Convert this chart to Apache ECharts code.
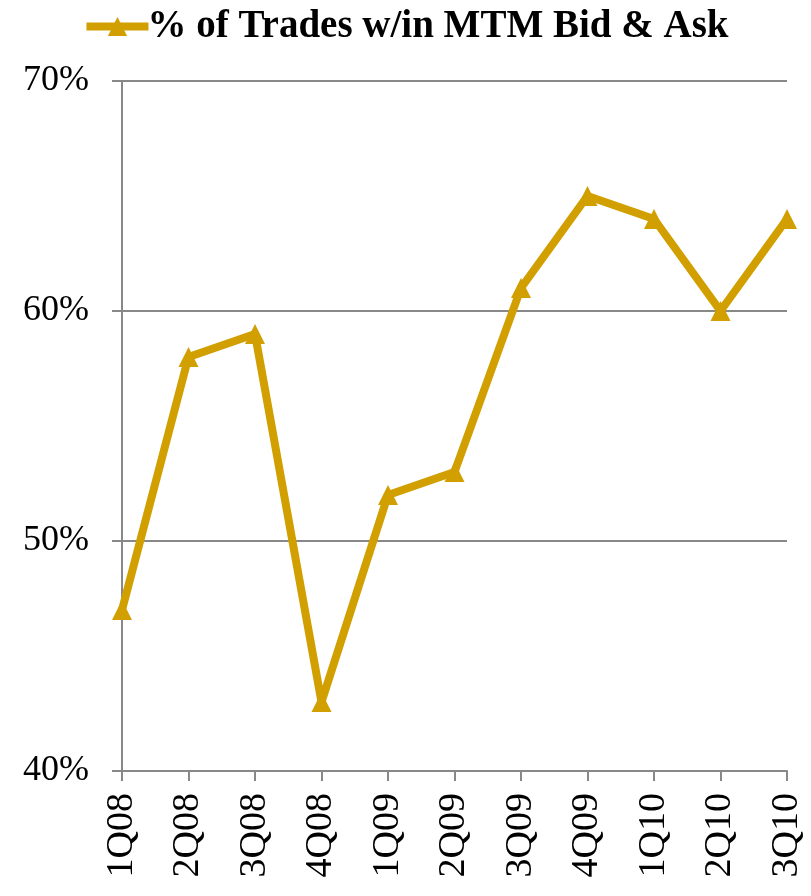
<!DOCTYPE html>
<html>
<head>
<meta charset="utf-8">
<script src="https://cdn.jsdelivr.net/npm/echarts@6/dist/echarts.min.js"></script>
<style>
  html, body { margin: 0; padding: 0; background: #fff; }
  #chart { width: 811px; height: 896px; }
</style>
</head>
<body>
<div id="chart"></div>
<script>
// quarters on the x axis
var quarters = ['1Q08', '2Q08', '3Q08', '4Q08', '1Q09', '2Q09', '3Q09', '4Q09', '1Q10', '2Q10', '3Q10'];
// share of trades inside the MTM bid/ask, in percent
var withinBidAsk = [47, 58, 59, 43, 52, 53, 61, 65, 64, 60, 64];
var seriesName = '% of Trades w/in MTM Bid & Ask';

var font = '"Liberation Serif", "DejaVu Serif", serif';
var gold = '#D19F00';

var chart = echarts.init(document.getElementById('chart'));
chart.setOption({
  animation: false,
  textStyle: { fontFamily: font },
  legend: {
    top: 2,
    left: 'center',
    itemWidth: 62,
    itemHeight: 24,
    itemGap: 0,
    lineStyle: { width: 8, color: gold },
    itemStyle: { color: gold },
    textStyle: { fontFamily: font, fontSize: 39, fontWeight: 'bold', color: '#000', padding: [0, 0, 0, -6] },
    data: [seriesName]
  },
  grid: { left: 122, right: 24, top: 81, bottom: 125 },
  xAxis: {
    type: 'category',
    data: quarters,
    boundaryGap: false,
    axisLine: { lineStyle: { color: '#888', width: 2 } },
    axisTick: { show: true, length: 10, alignWithLabel: true, lineStyle: { color: '#888', width: 2 } },
    axisLabel: { rotate: 90, margin: 22, fontSize: 38, color: '#000', fontFamily: font }
  },
  yAxis: {
    type: 'value',
    min: 40,
    max: 70,
    interval: 10,
    axisLine: { show: true, lineStyle: { color: '#888', width: 2 } },
    axisTick: { show: true, length: 10, lineStyle: { color: '#888', width: 2 } },
    splitLine: { lineStyle: { color: '#888', width: 2 } },
    axisLabel: { formatter: '{value}%', margin: 33, fontSize: 36, color: '#000', fontFamily: font }
  },
  series: [{
    name: seriesName,
    type: 'line',
    data: withinBidAsk,
    symbol: 'triangle',
    symbolSize: 20,
    lineStyle: { color: gold, width: 8 },
    itemStyle: { color: gold }
  }]
});
</script>
</body>
</html>
